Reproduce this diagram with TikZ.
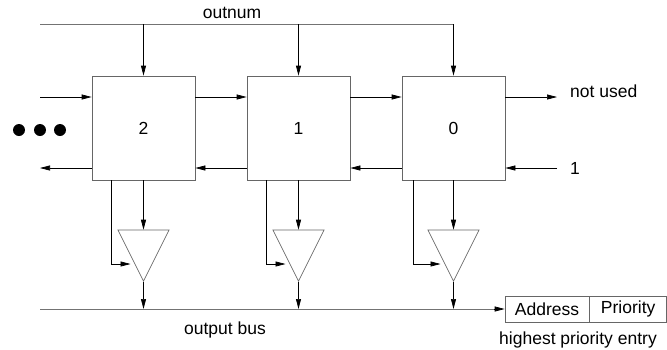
\documentclass[tikz,border=0pt]{standalone}
\usepackage{fontspec}
\setmainfont{Liberation Sans}
\usetikzlibrary{arrows.meta,shapes.geometric,calc}
\begin{document}
\begin{tikzpicture}[x=1pt,y=-1pt,
  font=\fontsize{17.5}{20}\selectfont,
  cell/.style={draw=black!60,line width=0.7pt,minimum width=103pt,minimum height=104pt,inner sep=0pt},
  drv/.style={draw=black!60,line width=0.7pt,isosceles triangle,isosceles triangle stretches,shape border rotate=270,minimum width=51pt,minimum height=51pt,inner sep=0pt,anchor=apex},
  arr/.style={line width=0.7pt,-{Triangle[length=10pt,width=5pt]}},
  busline/.style={draw=black!55,line width=0.8pt},
  field/.style={draw=black!60,line width=0.7pt,minimum height=26pt,inner sep=0pt},
  dot/.style={circle,fill=black,minimum size=12pt,inner sep=0pt}]
\useasboundingbox (0,0) rectangle (667,349);
% cells
\node[cell] (b2) at (143.5,128) {2};
\node[cell] (b1) at (298.5,128) {1};
\node[cell] (b0) at (453.5,128) {0};
% top line
\coordinate (tl) at (40,24);
\coordinate (tr) at (454,24);
\draw[busline] (tl) -- (tr);
\node (outnum) at (232,13) {outnum};
\foreach \b in {b2,b1,b0}{
  \draw[arr] (\b.north |- tl) -- (\b.north);
}
% horizontal chain
\coordinate (inL) at (40,97);
\coordinate (outL) at (40,168);
\draw[arr] (inL) -- (inL -| b2.west);
\draw[arr] (b2.south west |- outL) -- (outL);
\draw[arr] (b2.east |- inL) -- (b1.west |- inL);
\draw[arr] (b1.east |- inL) -- (b0.west |- inL);
\draw[arr] (b1.west |- outL) -- (b2.east |- outL);
\draw[arr] (b0.west |- outL) -- (b1.east |- outL);
\coordinate (nu) at (557,97);
\coordinate (one) at (557,168);
\draw[arr] (b0.east |- nu) -- (nu);
\draw[arr] (one) -- (b0.east |- one);
\node[anchor=base west,inner sep=0pt] (nutext) at (570,97) {not used};
\node[anchor=west,inner sep=0pt] (onetext) at (570,168) {1};
% dots
\node[dot] (d1) at (19,130) {};
\node[dot] (d2) at (40,130) {};
\node[dot] (d3) at (60,130) {};
% drivers
\node[drv] (t2) at (143.5,282) {};
\node[drv] (t1) at (298.5,282) {};
\node[drv] (t0) at (453.5,282) {};
% bus
\coordinate (busL) at (40,309);
\node[field,minimum width=84pt] (addr) at (547,309) {Address};
\node[field,minimum width=77pt,anchor=west] (prio) at (addr.east) {Priority};
\draw[busline] (busL) -- ([xshift=-10pt]addr.west);
\draw[arr] ([xshift=-10.5pt]addr.west) -- (addr.west);
\node (obus) at (225,330) {output bus};
\node (hpe) at (578,340) {highest priority entry};
% connections cell -> driver -> bus
\foreach \b/\t/\s in {b2/t2/20,b1/t1/20,b0/t0/12}{
  \draw[arr] (\b.south) -- (\b.south |- \t.north);
  \draw[arr] ([xshift=\s pt]\b.south west) |- ([xshift=-13pt,yshift=18pt]\t.apex);
  \draw[arr] (\t.apex) -- (\t.apex |- busL);
}
\end{tikzpicture}
\end{document}
